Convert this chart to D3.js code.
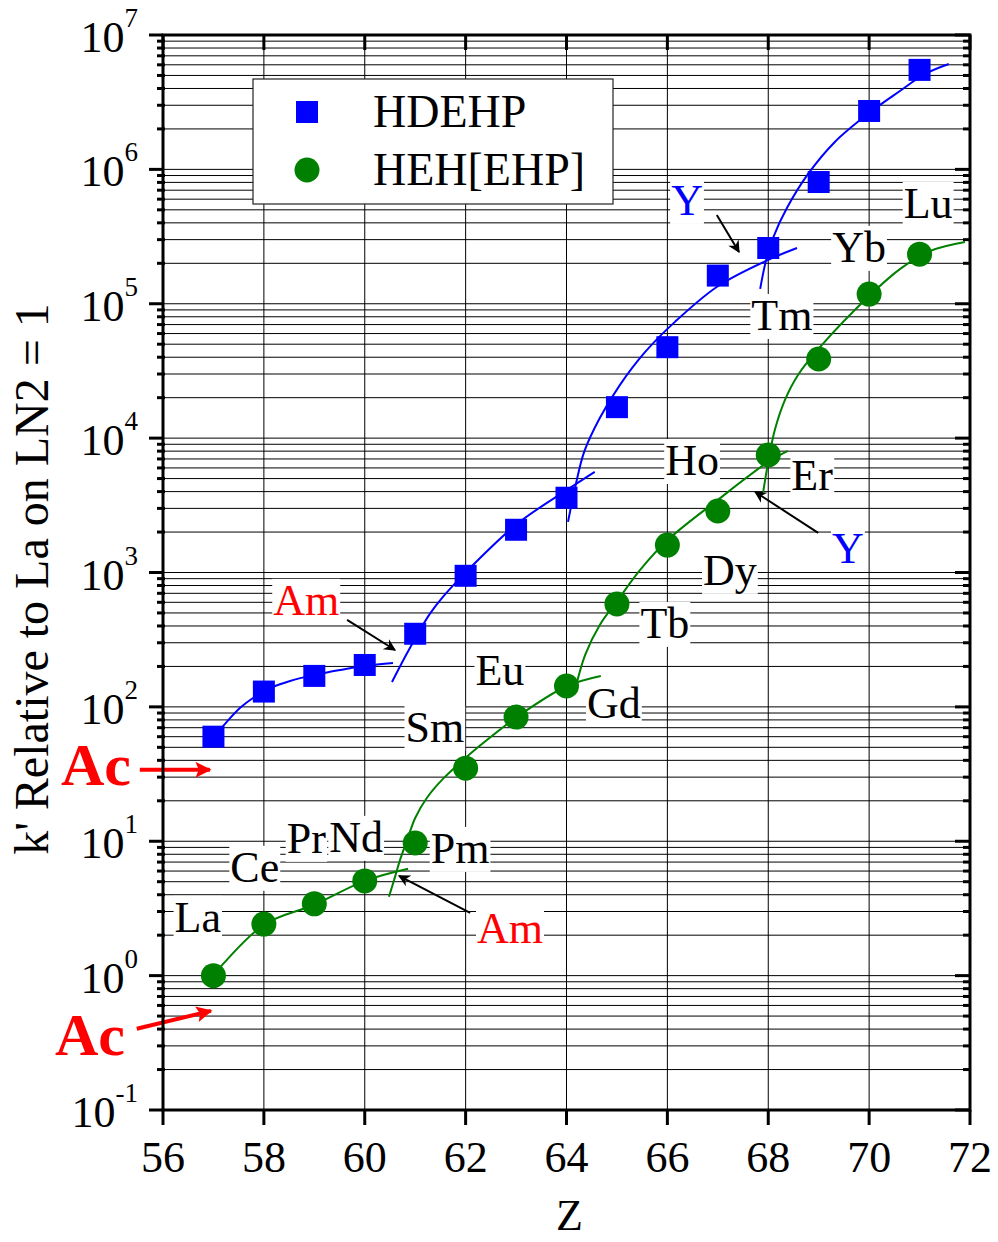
<!DOCTYPE html>
<html>
<head>
<meta charset="utf-8">
<script src="https://cdn.jsdelivr.net/npm/d3@7"></script>
<style>
  body { margin: 0; background: #fff; }
  svg { display: block; font-family: "Liberation Serif", "Times New Roman", serif; }
</style>
</head>
<body>
<div id="chart"></div>
<script>
(function() {
  // measured points
  var zValues = [57, 58, 59, 60, 61, 62, 63, 64, 65, 66, 67, 68, 69, 70, 71];
  var elements = ["La", "Ce", "Pr", "Nd", "Pm", "Sm", "Eu", "Gd", "Tb", "Dy", "Ho", "Er", "Tm", "Yb", "Lu"];
  var hdehpK = [60, 130, 170, 205, 350, 945, 2080, 3600, 17000, 47500, 162000, 260000, 805000, 2720000, 5500000];
  var hehK = [1.0, 2.42, 3.42, 5.07, 9.7, 35, 84, 143, 584, 1600, 2870, 7500, 38800, 118000, 234000];

  // fitted segments [Z, k']
  var hdehpFit1 = [[57.01, 59.8], [57.23, 74.8], [57.53, 98.4], [57.82, 119], [58.12, 138], [58.52, 156], [59.01, 173], [59.51, 188], [60.02, 202], [60.56, 212]];
  var hdehpFit2 = [[60.54, 153], [60.8, 236], [61.04, 343], [61.29, 492], [61.55, 658], [62.03, 1028], [63.02, 2300], [64.01, 4120], [64.56, 5610]];
  var hdehpFit3 = [[64.03, 2380], [64.17, 4260], [64.35, 7890], [64.66, 14100], [65.06, 24900], [65.56, 43800], [66.15, 73300], [67, 135000], [68, 212000], [68.57, 260000]];
  var hdehpFit4 = [[67.84, 129000], [67.95, 205000], [68.11, 319000], [68.37, 516000], [68.79, 925000], [69.32, 1600000], [70, 2630000], [70.61, 3830000], [71.11, 5130000], [71.58, 6080000]];
  var hehFit1 = [[57, 1.01], [58, 2.39], [59, 3.37], [60, 5.07], [60.86, 6.24]];
  var hehFit2 = [[60.48, 3.86], [60.6, 5.43], [60.7, 7.27], [60.84, 10.2], [61, 14.9], [61.23, 21], [61.55, 29.1], [61.89, 38.3], [62.28, 51.3], [63.02, 84.3], [64.01, 143], [64.68, 170]];
  var hehFit3 = [[64.17, 134], [64.37, 244], [64.66, 407], [65.02, 625], [65.46, 1045], [66.01, 1750], [67, 3470], [68, 6650], [68.39, 8030]];
  var hehFit4 = [[67.9, 3980], [68, 6650], [68.13, 11500], [68.33, 19200], [68.59, 29500], [69.03, 47700], [70.02, 116000], [70.61, 181000], [71.21, 247000], [71.9, 288000]];

  var xTicks = [56, 58, 60, 62, 64, 66, 68, 70, 72];
  var yDecades = [-1, 0, 1, 2, 3, 4, 5, 6, 7];

  // element labels [text, Z, k' at baseline]
  var elementLabels = [
    ["La", 56.69, 2.12], ["Ce", 57.82, 4.99], ["Pr", 58.84, 8.2], ["Nd", 59.83, 8.34],
    ["Pm", 61.89, 6.9], ["Sm", 61.39, 55], ["Eu", 62.68, 146], ["Gd", 64.94, 82.8],
    ["Tb", 65.95, 326], ["Dy", 67.24, 809], ["Ho", 66.49, 5320], ["Er", 68.87, 4120],
    ["Tm", 68.27, 63800], ["Yb", 69.8, 205000], ["Lu", 71.17, 435000]
  ];
  var noteLabels = [
    ["Am", 58.84, 484, "#ff0000"], ["Am", 62.88, 1.75, "#ff0000"],
    ["Y", 66.39, 458000, "#0000ff"], ["Y", 69.58, 1180, "#0000ff"]
  ];
  var noteArrows = [
    [[59.65, 444], [60.6, 265]],
    [[62.09, 2.93], [60.68, 5.53]],
    [[66.98, 458000], [67.42, 243000]],
    [[68.99, 1970], [67.74, 3980]]
  ];
  var acLabels = [["Ac", 54.67, 26.3], ["Ac", 54.55, 0.258]];
  var acArrows = [
    [[55.54, 34], [56.93, 34]],
    [[55.48, 0.402], [56.95, 0.547]]
  ];

  var outerWidth = 998,
      outerHeight = 1242,
      margin = {top: 35, right: 28, bottom: 132, left: 163},
      width = outerWidth - margin.left - margin.right,
      height = outerHeight - margin.top - margin.bottom;

  var root = d3.select("#chart").append("svg")
      .attr("width", outerWidth)
      .attr("height", outerHeight);

  var defs = root.append("defs");
  defs.append("marker")
      .attr("id", "head-black")
      .attr("viewBox", "0 0 10 10")
      .attr("refX", 9).attr("refY", 5)
      .attr("markerWidth", 8).attr("markerHeight", 6)
      .attr("markerUnits", "strokeWidth")
      .attr("orient", "auto")
    .append("path")
      .attr("d", "M0,0 L10,5 L0,10 L3,5 Z")
      .attr("fill", "#000");
  defs.append("marker")
      .attr("id", "head-red")
      .attr("viewBox", "0 0 10 10")
      .attr("refX", 9).attr("refY", 5)
      .attr("markerWidth", 5.5).attr("markerHeight", 4)
      .attr("markerUnits", "strokeWidth")
      .attr("orient", "auto")
    .append("path")
      .attr("d", "M0,0 L10,5 L0,10 L2,5 Z")
      .attr("fill", "#ff0000");

  var svg = root.append("g")
      .attr("transform", "translate(" + margin.left + "," + margin.top + ")");

  var x = d3.scaleLinear()
      .domain([56, 72])
      .range([0, width]);

  var y = d3.scaleLog()
      .domain([0.1, 1e7])
      .range([height, 0]);

  // grid
  var minorValues = [];
  yDecades.forEach(function(p) {
    for (var m = 1; m < 10; m++) {
      var v = m * Math.pow(10, p);
      if (v > 0.1 && v < 1e7) minorValues.push(v);
    }
  });

  svg.append("g")
      .attr("class", "grid")
    .selectAll("line")
    .data(minorValues)
    .enter().append("line")
      .attr("x1", 0)
      .attr("x2", width)
      .attr("y1", d => y(d))
      .attr("y2", d => y(d))
      .attr("stroke", "#000")
      .attr("stroke-width", 1);

  svg.append("g")
      .attr("class", "grid")
    .selectAll("line")
    .data(xTicks.slice(1, -1))
    .enter().append("line")
      .attr("x1", d => x(d))
      .attr("x2", d => x(d))
      .attr("y1", 0)
      .attr("y2", height)
      .attr("stroke", "#000")
      .attr("stroke-width", 1);

  // legend
  var legend = svg.append("g")
      .attr("class", "legend")
      .attr("transform", "translate(90,44)");

  legend.append("rect")
      .attr("width", 360)
      .attr("height", 125)
      .attr("fill", "#fff")
      .attr("stroke", "#222")
      .attr("stroke-width", 1.2);

  legend.append("rect")
      .attr("x", 43).attr("y", 22)
      .attr("width", 22).attr("height", 22)
      .attr("fill", "#0000ff");

  legend.append("circle")
      .attr("cx", 54).attr("cy", 91)
      .attr("r", 12.5)
      .attr("fill", "#008000");

  legend.append("text")
      .attr("x", 120).attr("y", 48)
      .style("font-size", "46px")
      .text("HDEHP");

  legend.append("text")
      .attr("x", 120).attr("y", 106)
      .style("font-size", "46px")
      .text("HEH[EHP]");

  // labels with white boxes
  function boxedText(g, t, zx, ky, color, size, weight) {
    var lg = g.append("g");
    var txt = lg.append("text")
        .attr("x", x(zx))
        .attr("y", y(ky))
        .attr("text-anchor", "middle")
        .attr("fill", color)
        .style("font-size", size + "px")
        .style("font-weight", weight || "normal")
        .text(t);
    var bb = txt.node().getBBox();
    lg.insert("rect", "text")
        .attr("x", bb.x - 1)
        .attr("y", bb.y + 3)
        .attr("width", bb.width + 2)
        .attr("height", bb.height - 4)
        .attr("fill", "#fff");
  }

  var labels = svg.append("g").attr("class", "labels");
  elementLabels.forEach(d => boxedText(labels, d[0], d[1], d[2], "#000", 44));
  noteLabels.forEach(d => boxedText(labels, d[0], d[1], d[2], d[3], 44));

  // fitted curves
  var line = d3.line()
      .x(d => x(d[0]))
      .y(d => y(d[1]))
      .curve(d3.curveCatmullRom.alpha(0.5));

  var fits = svg.append("g").attr("class", "fits");

  [hdehpFit1, hdehpFit2, hdehpFit3, hdehpFit4].forEach(function(seg) {
    fits.append("path")
        .attr("d", line(seg))
        .attr("fill", "none")
        .attr("stroke", "#0000ff")
        .attr("stroke-width", 2);
  });

  [hehFit1, hehFit2, hehFit3, hehFit4].forEach(function(seg) {
    fits.append("path")
        .attr("d", line(seg))
        .attr("fill", "none")
        .attr("stroke", "#008000")
        .attr("stroke-width", 2);
  });

  // points
  svg.append("g")
      .attr("class", "hdehp")
    .selectAll("rect")
    .data(zValues)
    .enter().append("rect")
      .attr("x", d => x(d) - 11)
      .attr("y", (d, i) => y(hdehpK[i]) - 11)
      .attr("width", 22)
      .attr("height", 22)
      .attr("fill", "#0000ff")
    .append("title")
      .text((d, i) => elements[i] + ": " + hdehpK[i]);

  svg.append("g")
      .attr("class", "heh")
    .selectAll("circle")
    .data(zValues)
    .enter().append("circle")
      .attr("cx", d => x(d))
      .attr("cy", (d, i) => y(hehK[i]))
      .attr("r", 12.5)
      .attr("fill", "#008000")
    .append("title")
      .text((d, i) => elements[i] + ": " + hehK[i]);

  // arrows
  svg.append("g")
    .selectAll("line")
    .data(noteArrows)
    .enter().append("line")
      .attr("x1", d => x(d[0][0]))
      .attr("y1", d => y(d[0][1]))
      .attr("x2", d => x(d[1][0]))
      .attr("y2", d => y(d[1][1]))
      .attr("stroke", "#000")
      .attr("stroke-width", 2)
      .attr("marker-end", "url(#head-black)");

  svg.append("g")
    .selectAll("line")
    .data(acArrows)
    .enter().append("line")
      .attr("x1", d => x(d[0][0]))
      .attr("y1", d => y(d[0][1]))
      .attr("x2", d => x(d[1][0]))
      .attr("y2", d => y(d[1][1]))
      .attr("stroke", "#ff0000")
      .attr("stroke-width", 4)
      .attr("marker-end", "url(#head-red)");

  svg.append("g")
    .selectAll("text")
    .data(acLabels)
    .enter().append("text")
      .attr("x", d => x(d[1]))
      .attr("y", d => y(d[2]))
      .attr("text-anchor", "middle")
      .attr("fill", "#ff0000")
      .style("font-size", "60px")
      .style("font-weight", "bold")
      .text(d => d[0]);

  // axes frame
  var frame = svg.append("g").attr("class", "frame");

  frame.append("rect")
      .attr("width", width)
      .attr("height", height)
      .attr("fill", "none")
      .attr("stroke", "#000")
      .attr("stroke-width", 3);

  // x ticks: bottom outward, top inward
  frame.selectAll(".xt-bottom")
    .data(xTicks)
    .enter().append("line")
      .attr("x1", d => x(d)).attr("x2", d => x(d))
      .attr("y1", height).attr("y2", height + 15)
      .attr("stroke", "#000").attr("stroke-width", 3);

  frame.selectAll(".xt-top")
    .data(xTicks)
    .enter().append("line")
      .attr("x1", d => x(d)).attr("x2", d => x(d))
      .attr("y1", 0).attr("y2", 15)
      .attr("stroke", "#000").attr("stroke-width", 3);

  var majorValues = yDecades.map(p => Math.pow(10, p));

  frame.selectAll(".yt-left")
    .data(majorValues)
    .enter().append("line")
      .attr("x1", -14).attr("x2", 0)
      .attr("y1", d => y(d)).attr("y2", d => y(d))
      .attr("stroke", "#000").attr("stroke-width", 3);

  frame.selectAll(".yt-right")
    .data(majorValues)
    .enter().append("line")
      .attr("x1", width - 15).attr("x2", width)
      .attr("y1", d => y(d)).attr("y2", d => y(d))
      .attr("stroke", "#000").attr("stroke-width", 3);

  var minorOnly = minorValues.filter(v => majorValues.indexOf(v) < 0);

  frame.selectAll(".ym-left")
    .data(minorOnly)
    .enter().append("line")
      .attr("x1", -6).attr("x2", 2)
      .attr("y1", d => y(d)).attr("y2", d => y(d))
      .attr("stroke", "#000").attr("stroke-width", 3);

  frame.selectAll(".ym-right")
    .data(minorOnly)
    .enter().append("line")
      .attr("x1", width - 7).attr("x2", width)
      .attr("y1", d => y(d)).attr("y2", d => y(d))
      .attr("stroke", "#000").attr("stroke-width", 3);

  // tick labels
  svg.append("g")
      .attr("class", "axis axis--x")
    .selectAll("text")
    .data(xTicks)
    .enter().append("text")
      .attr("x", d => x(d))
      .attr("y", height + 62)
      .attr("text-anchor", "middle")
      .style("font-size", "44px")
      .text(d => d);

  var yLabels = svg.append("g")
      .attr("class", "axis axis--y")
    .selectAll("text")
    .data(yDecades)
    .enter().append("text")
      .attr("x", -25)
      .attr("y", d => y(Math.pow(10, d)) + 17)
      .attr("text-anchor", "end")
      .style("font-size", "44px");

  yLabels.append("tspan").text("10");
  yLabels.append("tspan")
      .attr("dy", -25)
      .style("font-size", "27px")
      .text(d => d);

  // axis titles
  svg.append("text")
      .attr("x", width / 2 + 3)
      .attr("y", height + 120)
      .attr("text-anchor", "middle")
      .style("font-size", "44px")
      .text("Z");

  svg.append("text")
      .attr("transform", "translate(" + (48 - margin.left) + "," + (579 - margin.top) + ") rotate(-90)")
      .attr("text-anchor", "middle")
      .style("font-size", "48px")
      .text("k' Relative to La on LN2 = 1");
})();
</script>
</body>
</html>
